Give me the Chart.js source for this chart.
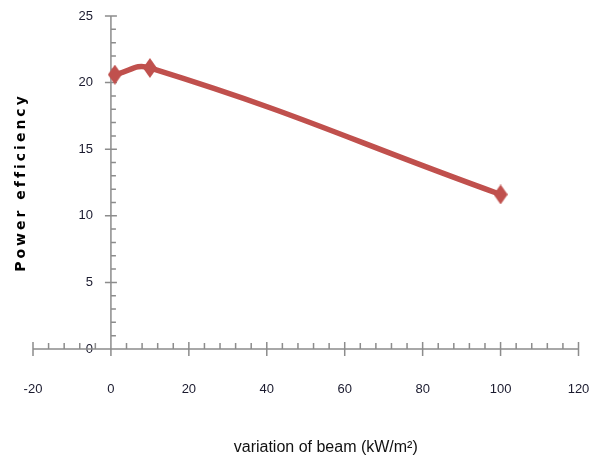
<!DOCTYPE html>
<html>
<head>
<meta charset="utf-8">
<script src="https://cdn.jsdelivr.net/npm/chart.js@4/dist/chart.umd.min.js"></script>
<style>
  html, body { margin: 0; padding: 0; background: #ffffff; }
  #wrap { width: 591px; height: 465px; }
</style>
</head>
<body>
<div id="wrap"><canvas id="chart"></canvas></div>
<script>
// Beam intensity (kW/m²) and the measured power efficiency
const beamLevels = [1, 10, 100];
const powerEfficiency = [20.6, 21.1, 11.6];

// Axis ranges and steps
const xRange = [-20, 120];
const xStep = 20;
const xMinorStep = 4;
const yRange = [0, 25];
const yStep = 5;
const yMinorStep = 1;

const seriesColor = '#C0504D';
const axisColor = '#8c8c8c';
const labelColor = '#1a1a2e';
const narrowFont = '"Liberation Sans Narrow", "Liberation Sans", Arial, sans-serif';

// Tall diamond marker
function diamondMarker(w, h, color) {
  const c = document.createElement('canvas');
  c.width = w;
  c.height = h;
  const g = c.getContext('2d');
  g.fillStyle = color;
  g.beginPath();
  g.moveTo(w / 2, 0);
  g.lineTo(w, h / 2);
  g.lineTo(w / 2, h);
  g.lineTo(0, h / 2);
  g.closePath();
  g.fill();
  return c;
}
const marker = diamondMarker(14, 20, seriesColor);

// Axes crossing at the origin, with major and minor tick marks
const crossingAxes = {
  id: 'crossingAxes',
  afterLayout(chart) {
    // spread the letters of the vertical axis title
    const s = chart.scales.yTitle;
    if (s && !s._spaced) {
      const drawTitle = s.drawTitle.bind(s);
      s.drawTitle = function () {
        chart.ctx.save();
        chart.ctx.letterSpacing = '3px';
        drawTitle();
        chart.ctx.restore();
      };
      s._spaced = true;
    }
    // horizontal axis title sits a little right of centre
    const sx = chart.scales.x;
    if (sx && !sx._shifted) {
      const drawTitleX = sx.drawTitle.bind(sx);
      sx.drawTitle = function () {
        chart.ctx.save();
        chart.ctx.translate(20, 0);
        drawTitleX();
        chart.ctx.restore();
      };
      sx._shifted = true;
    }
  },
  beforeDatasetsDraw(chart) {
    const { ctx } = chart;
    const x = chart.scales.x;
    const y = chart.scales.y;
    const x0 = x.getPixelForValue(0);
    const y0 = y.getPixelForValue(0);
    ctx.save();
    ctx.strokeStyle = axisColor;
    ctx.lineWidth = 1.5;
    ctx.beginPath();
    ctx.moveTo(x.getPixelForValue(x.min), y0);
    ctx.lineTo(x.getPixelForValue(x.max), y0);
    ctx.moveTo(x0, y.getPixelForValue(y.max));
    ctx.lineTo(x0, y.getPixelForValue(y.min));
    for (let v = x.min; v <= x.max + 1e-9; v += xMinorStep) {
      const px = x.getPixelForValue(v);
      if (Math.abs(v % xStep) < 1e-9) {
        ctx.moveTo(px, y0 - 7);
        ctx.lineTo(px, y0 + 7);
      } else {
        ctx.moveTo(px, y0 - 6);
        ctx.lineTo(px, y0);
      }
    }
    for (let v = y.min; v <= y.max + 1e-9; v += yMinorStep) {
      const py = y.getPixelForValue(v);
      if (Math.abs(v % yStep) < 1e-9) {
        ctx.moveTo(x0 - 6, py);
        ctx.lineTo(x0 + 6, py);
      } else {
        ctx.moveTo(x0, py);
        ctx.lineTo(x0 + 5, py);
      }
    }
    ctx.stroke();
    ctx.restore();
  }
};

new Chart(document.getElementById('chart'), {
  type: 'scatter',
  data: {
    datasets: [{
      label: 'Power efficiency',
      data: beamLevels.map((b, i) => ({ x: b, y: powerEfficiency[i] })),
      showLine: true,
      borderColor: seriesColor,
      backgroundColor: seriesColor,
      borderWidth: 5.5,
      tension: 0.45,
      pointStyle: marker,
      pointRadius: 7
    }]
  },
  options: {
    responsive: true,
    maintainAspectRatio: false,
    animation: false,
    layout: { padding: { left: 0, right: 12, top: 16, bottom: 0 } },
    plugins: {
      legend: { display: false },
      tooltip: { enabled: false }
    },
    scales: {
      x: {
        type: 'linear',
        position: 'bottom',
        min: xRange[0],
        max: xRange[1],
        grid: { display: false, drawTicks: false },
        border: { display: false },
        ticks: {
          stepSize: xStep,
          padding: 33,
          color: labelColor,
          font: { family: narrowFont, size: 13 }
        },
        title: {
          display: true,
          text: 'variation of beam (kW/m²)',
          color: '#111111',
          font: { family: narrowFont, size: 16 },
          padding: { top: 30, bottom: 8 }
        },
        afterFit(scale) {
          scale.paddingLeft = 0;
          scale.paddingRight = 0;
          scale.height = 116;
        }
      },
      y: {
        type: 'linear',
        // tick labels sit a little to the left of the vertical axis line
        position: { x: -4.6 },
        min: yRange[0],
        max: yRange[1],
        grid: { display: false, drawTicks: false },
        border: { display: false },
        ticks: {
          stepSize: yStep,
          padding: 0,
          color: labelColor,
          font: { family: narrowFont, size: 13 }
        },
        afterFit(scale) {
          scale.width = 0;
          scale.paddingTop = 0;
          scale.paddingBottom = 0;
        }
      },
      yTitle: {
        type: 'linear',
        position: 'left',
        axis: 'y',
        min: yRange[0],
        max: yRange[1],
        grid: { display: false, drawTicks: false },
        border: { display: false },
        ticks: { display: false },
        title: {
          display: true,
          text: 'Power efficiency',
          color: '#000000',
          font: { family: '"DejaVu Sans", sans-serif', size: 14, weight: 'bold' },
          padding: { top: 13, bottom: 4 }
        },
        afterFit(scale) {
          scale.width = 33;
        }
      }
    }
  },
  plugins: [crossingAxes]
});
</script>
</body>
</html>
